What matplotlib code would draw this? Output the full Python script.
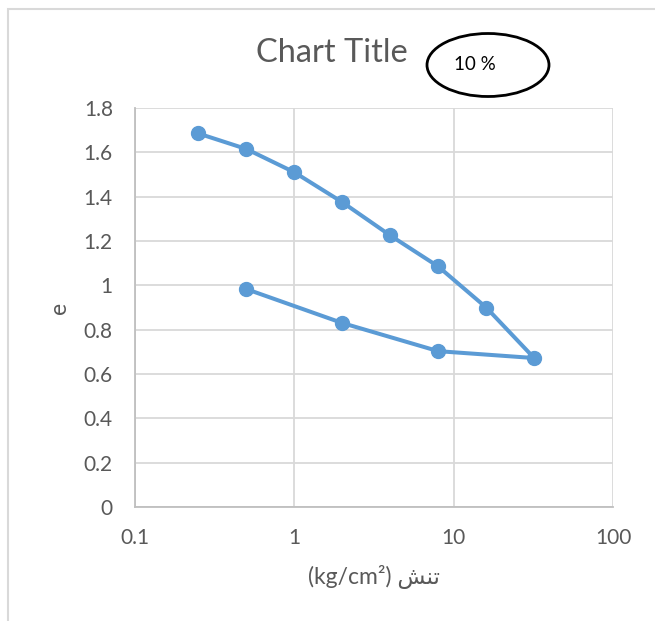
import matplotlib
matplotlib.use("Agg")
import matplotlib.pyplot as plt
from matplotlib.patches import Ellipse, Rectangle
from matplotlib.ticker import FixedLocator, FuncFormatter

# pressure steps (kg/cm2), loading then unloading
stress = [0.25, 0.5, 1, 2, 4, 8, 16, 32, 8, 2, 0.5]
void_ratio = [1.685, 1.615, 1.51, 1.375, 1.225, 1.085, 0.90, 0.672, 0.703, 0.83, 0.983]

x_ticks = [0.1, 1, 10, 100]
y_ticks = [0, 0.2, 0.4, 0.6, 0.8, 1.0, 1.2, 1.4, 1.6, 1.8]

title = "Chart Title"
note = "10 %"
# Arabic word shaped by hand (presentation forms, visual order)
xlabel = "(kg/cm²) " + "\uFEB6\uFEE8\uFE97"
ylabel = "e"

plt.rcParams['font.family'] = ['Lato', 'DejaVu Sans']
grey = '#595959'

fig = plt.figure(figsize=(6.55, 6.21), dpi=100)
ax = fig.add_axes([135/655, 1-507/621, (613-135)/655, (507-108)/621])

ax.plot(stress, void_ratio, color='#5b9bd5', lw=2.9, marker='o', ms=10,
        solid_joinstyle='round', zorder=3)

ax.set_xscale('log')
ax.set_xlim(0.1, 100)
ax.set_ylim(0, 1.8)
ax.xaxis.set_major_locator(FixedLocator(x_ticks))
ax.xaxis.set_minor_locator(FixedLocator([]))
ax.xaxis.set_major_formatter(FuncFormatter(lambda v, p: f"{v:g}"))
ax.set_yticks(y_ticks)
ax.yaxis.set_major_formatter(FuncFormatter(lambda v, p: f"{v:g}"))

ax.grid(True, color='#d9d9d9', lw=1.3)
ax.set_axisbelow(True)
for s in ax.spines.values():
    s.set_visible(False)
ax.spines['left'].set_visible(True)
ax.spines['bottom'].set_visible(True)
ax.spines['left'].set_color('#bfbfbf')
ax.spines['bottom'].set_color('#bfbfbf')
ax.spines['left'].set_linewidth(1.3)
ax.spines['bottom'].set_linewidth(1.3)

ax.tick_params(axis='both', length=0, labelsize=15, labelcolor=grey)
ax.tick_params(axis='x', pad=15)
ax.tick_params(axis='y', pad=16)

ax.set_xlabel(xlabel, fontsize=16.5, color=grey, labelpad=12)
ax.set_ylabel(ylabel, fontsize=16.5, color=grey, labelpad=10)

fig.text(332/655, 1-53/621, title, fontsize=23.5, color=grey, ha='center', va='center')

# chart area frame (only top/left visible in the crop)
fig.add_artist(Rectangle((8/655, -0.2), 1.5, 1-9/621+0.2, transform=fig.transFigure,
                         fill=False, ec='#d9d9d9', lw=1.5))

# hand-drawn oval with note
fig.add_artist(Ellipse((488/655, 1-65/621), 122/655, 63/621, transform=fig.transFigure,
                       fill=False, ec='black', lw=2))
fig.text(475/655, 1-64/621, note, fontsize=13.5, color='black', ha='center', va='center')

fig.savefig('out.png', dpi=100)
